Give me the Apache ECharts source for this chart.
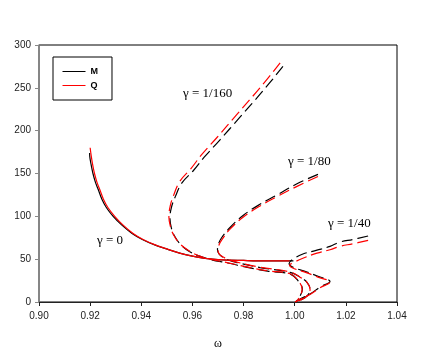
<!DOCTYPE html>
<html>
<head>
<meta charset="utf-8">
<script src="https://cdn.jsdelivr.net/npm/echarts@6/dist/echarts.min.js"></script>
<style>html,body{margin:0;background:#fff}#chart{width:436px;height:355px}</style>
</head>
<body>
<div id="chart"></div>
<script>
/* ω vs amplitude — M (black) and Q (red), γ = 0, 1/160, 1/80, 1/40 */

// γ = 0 (solid)
const m0 = [[0.9198,174],[0.91985,170],[0.9204,160],[0.9211,150],[0.92205,140],[0.9232,131],[0.9246,120],[0.9264,110],
  [0.929,100],[0.9323,90],[0.9364,80],[0.9404,73],[0.945,67],[0.9499,62],[0.955,57],[0.96,53.5],[0.965,51],
  [0.97,49.5],[0.98,48.5],[0.99,48],[0.9995,48]];
const q0 = [[0.92,180],[0.92045,170],[0.921,160],[0.9217,150],[0.92265,140],[0.9238,131],[0.9252,120],[0.927,110],
  [0.9296,100],[0.9328,90],[0.9368,80],[0.9407,73],[0.9452,67],[0.95,62],[0.955,57],[0.96,53.5],[0.965,51],
  [0.97,49.5],[0.98,48.5],[0.99,48],[0.998,48]];

// γ = 1/160
const m160 = [[0.9954,275],[0.9876,246.5],[0.9785,215.5],[0.9707,189],[0.9646,169],[0.9604,153.5],[0.9559,139],
  [0.9533,123],[0.9518,110.5],[0.9512,98],[0.9518,86],[0.953,77],[0.9554,67],[0.9588,59],[0.9628,53.5],[0.9672,49.5],
  [0.9738,45.5],[0.9815,40.5],[0.9894,36],[0.9983,32.5],[1.0014,24.5],[1.003,15],[1.0021,7],[1.0005,0]];
const q160 = [[0.9943,279],[0.9864,250],[0.9774,219],[0.9696,192],[0.9636,172],[0.9595,156],[0.9551,141],
  [0.9527,125],[0.9513,112],[0.9508,99],[0.9515,87],[0.9527,78],[0.9551,68],[0.9585,60],[0.9625,54],[0.9669,50],
  [0.9735,46],[0.9813,41],[0.9892,36.5],[0.9982,33],[1.0013,25],[1.0029,15],[1.0021,7],[1.0005,0]];

// γ = 1/80
const m80 = [[1.0091,149],[1.0009,138],[0.9931,125],[0.9864,114],[0.9798,101],[0.9747,87],[0.9714,75],[0.9701,67],
  [0.9698,61],[0.9704,56],[0.9718,52.5],[0.9745,48.5],[0.9774,46],[0.9864,40.2],[0.9982,34.5],[1.0021,29],
  [1.0048,23],[1.006,15],[1.0048,7],[1.0013,1],[1.0005,0]];
const q80 = [[1.0091,146.5],[1.0009,135],[0.9931,123],[0.9864,112],[0.9798,99],[0.9747,85],[0.9716,73],[0.9703,66],
  [0.97,60],[0.9706,55.5],[0.972,52.5],[0.9745,49],[0.9774,46.5],[0.9864,40.7],[0.9982,35],[1.0021,29],
  [1.0048,23],[1.006,15],[1.0048,7],[1.0013,1],[1.0005,0]];

// γ = 1/40
const m40 = [[1.0287,77],[1.0228,73],[1.0177,70],[1.0138,65],[1.0087,60.5],[1.0032,56],[0.9993,50],[0.9978,45],
  [0.999,41],[1.0048,35],[1.0091,30],[1.0138,24],[1.0099,17.4],[1.006,9.3],[1.0021,3.5],[1.0001,0]];
const q40 = [[1.0287,72],[1.0228,68],[1.0177,65],[1.0138,61],[1.0087,57],[1.0032,51],[0.9995,46],[0.998,43],
  [0.999,40],[1.0048,34],[1.0091,29],[1.0138,23.5],[1.0099,16.5],[1.006,8.8],[1.0021,3],[1.0001,0]];

const labels = [
  { text: 'γ = 0', left: 97, top: 234 },
  { text: 'γ = 1/160', left: 183, top: 87 },
  { text: 'γ = 1/80', left: 288, top: 155 },
  { text: 'γ = 1/40', left: 328, top: 217 }
];

const chart = echarts.init(document.getElementById('chart'));
const dash = [11, 5];
const line = (name, data, color, type) => ({
  type: 'line', name, data, symbol: 'none', smooth: 0.4, silent: true,
  itemStyle: { color },
  lineStyle: { color, width: 1.2, type },
  z: color === '#000' ? 2 : 3
});
const tickFont = { color: '#222', fontSize: 10, fontFamily: 'Liberation Sans' };

chart.setOption({
  animation: false,
  backgroundColor: '#fff',
  grid: { left: 39, right: 39, top: 45, bottom: 52, show: true, borderColor: '#000', borderWidth: 1 },
  legend: {
    orient: 'vertical', left: 53, top: 57,
    data: ['M', 'Q'],
    itemWidth: 23, itemHeight: 10, itemGap: 5,
    itemStyle: { opacity: 0 },
    lineStyle: { width: 1 },
    padding: [10, 14, 10, 9],
    borderColor: '#000', borderWidth: 1,
    textStyle: { color: '#000', fontSize: 9, fontWeight: 'bold', fontFamily: 'Liberation Sans' }
  },
  xAxis: {
    type: 'value', min: 0.90, max: 1.04, interval: 0.02,
    name: 'ω', nameLocation: 'middle', nameGap: 36,
    nameTextStyle: { fontFamily: 'Liberation Serif', fontSize: 12, color: '#000' },
    axisLine: { lineStyle: { color: '#222', width: 1 } },
    axisTick: { inside: false, length: 4, lineStyle: { color: '#222' } },
    axisLabel: Object.assign({ margin: 9, formatter: v => v.toFixed(2) }, tickFont),
    splitLine: { show: false }
  },
  yAxis: {
    type: 'value', min: 0, max: 300, interval: 50,
    axisLine: { show: true, lineStyle: { color: '#888', width: 1.5 } },
    axisTick: { show: true, length: 4, lineStyle: { color: '#888' } },
    axisLabel: Object.assign({ margin: 8 }, tickFont),
    splitLine: { show: false }
  },
  graphic: labels.map(l => ({
    type: 'text', left: l.left, top: l.top,
    style: { text: l.text, font: '13px "Liberation Serif"', fill: '#000' }
  })),
  series: [
    line('M', m0, '#000', 'solid'),
    line('Q', q0, '#f00', 'solid'),
    line('M', m160, '#000', dash),
    line('M', m80, '#000', dash),
    line('M', m40, '#000', dash),
    line('Q', q160, '#f00', dash),
    line('Q', q80, '#f00', dash),
    line('Q', q40, '#f00', dash)
  ]
});
</script>
</body>
</html>
